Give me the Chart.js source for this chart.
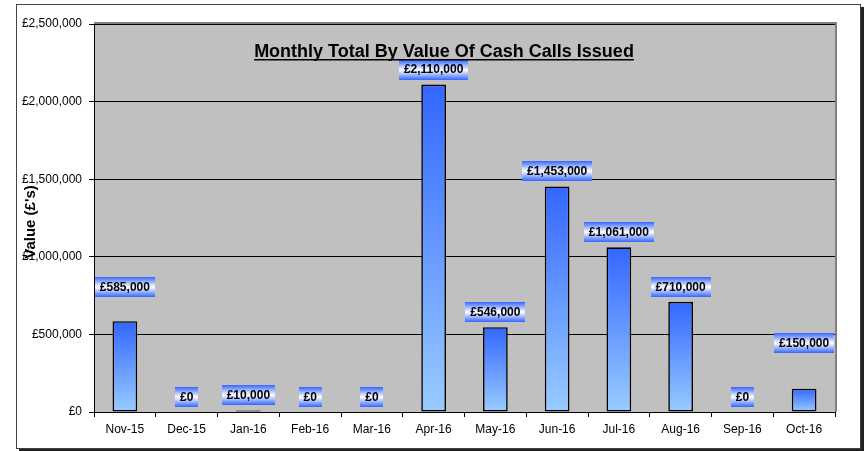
<!DOCTYPE html>
<html>
<head>
<meta charset="utf-8">
<script src="https://cdn.jsdelivr.net/npm/chart.js@4/dist/chart.umd.min.js"></script>
<style>
    html, body { margin: 0; padding: 0; background: #ffffff; }
    #wrap { width: 865px; height: 451px; position: relative; }
</style>
</head>
<body>
<div id="wrap"><canvas id="cashCalls"></canvas></div>
<script>
// Cash calls chart — Excel-ish look

const MONTHS = ['Nov-15', 'Dec-15', 'Jan-16', 'Feb-16', 'Mar-16', 'Apr-16',
    'May-16', 'Jun-16', 'Jul-16', 'Aug-16', 'Sep-16', 'Oct-16'];
const VALUES = [585000, 0, 10000, 0, 0, 2110000, 546000, 1453000, 1061000, 710000, 0, 150000];
const Y_TICKS = [0, 500000, 1000000, 1500000, 2000000, 2500000];

const TITLE = 'Monthly Total By Value Of Cash Calls Issued';
const Y_TITLE = "Value (£'s)";

const BLUE = '#3366ff';
const LIGHT_BLUE = '#99ccff';
const PLOT_BG = '#c0c0c0';
const FONT = "Arial, 'Liberation Sans', sans-serif";

// label boxes that were dragged higher in the original sheet (px above bar top)
const LABEL_LIFT = { 0: 34, 11: 46 };

const money = (v) => '£' + Number(v).toLocaleString('en-GB');

// per-bar vertical gradient, dark on top
function barFill(context) {
    const chart = context.chart;
    const y = chart.scales.y;
    if (!chart.chartArea || !y || context.type !== 'data') return BLUE;
    const top = y.getPixelForValue(context.parsed.y);
    const base = y.getPixelForValue(0);
    if (!isFinite(top) || base - top < 1) return BLUE;
    const g = chart.ctx.createLinearGradient(0, top, 0, base);
    g.addColorStop(0, BLUE);
    g.addColorStop(1, LIGHT_BLUE);
    return g;
}

const frame = {
    id: 'frame',
    beforeDraw(chart) {
        const { ctx, chartArea: a } = chart;
        ctx.save();
        // outer border + shadow
        ctx.fillStyle = '#ffffff';
        ctx.fillRect(0, 0, chart.width, chart.height);
        ctx.fillStyle = '#222';
        ctx.fillRect(19, 7, 845, 444);
        ctx.fillStyle = '#ffffff';
        ctx.fillRect(16, 4, 845, 445);
        ctx.strokeStyle = '#444';
        ctx.lineWidth = 1;
        ctx.strokeRect(16.5, 4.5, 844, 444);
        // plot area
        ctx.fillStyle = PLOT_BG;
        ctx.fillRect(a.left, a.top, a.right - a.left, a.bottom - a.top);
        ctx.fillStyle = '#808080';
        ctx.fillRect(a.left, a.top - 2, a.right - a.left + 2, 2);
        ctx.fillRect(a.right, a.top - 2, 2, a.bottom - a.top + 2);
        ctx.restore();
    },
    afterDraw(chart) {
        const { ctx } = chart;
        ctx.save();
        // title, underlined, inside the plot
        ctx.font = 'bold 18px ' + FONT;
        ctx.fillStyle = '#000';
        ctx.textAlign = 'center';
        ctx.textBaseline = 'alphabetic';
        const cx = 444, by = 57;
        ctx.fillText(TITLE, cx, by);
        const w = ctx.measureText(TITLE).width;
        ctx.fillRect(cx - w / 2, by + 2, w, 1.5);
        // y axis title, rotated
        ctx.translate(35, 222);
        ctx.rotate(-Math.PI / 2);
        ctx.font = 'bold 15px ' + FONT;
        ctx.fillText(Y_TITLE, 0, 0);
        ctx.restore();
    },
};

const valueBoxes = {
    id: 'valueBoxes',
    afterDatasetsDraw(chart) {
        const { ctx } = chart;
        const meta = chart.getDatasetMeta(0);
        ctx.save();
        ctx.font = 'bold 12px ' + FONT;
        ctx.textAlign = 'center';
        ctx.textBaseline = 'middle';
        meta.data.forEach((bar, i) => {
            const text = money(VALUES[i]);
            const w = Math.round(ctx.measureText(text).width) + 10;
            const h = 20;
            const cy = bar.y - (LABEL_LIFT[i] ?? 15);
            const x0 = Math.round(bar.x - w / 2);
            const y0 = Math.round(cy - h / 2);
            const g = ctx.createLinearGradient(0, y0, 0, y0 + h);
            g.addColorStop(0, BLUE);
            g.addColorStop(0.5, '#ffffff');
            g.addColorStop(1, BLUE);
            ctx.fillStyle = g;
            ctx.fillRect(x0, y0, w, h);
            ctx.fillStyle = '#000';
            ctx.fillText(text, bar.x, cy + 0.5);
        });
        ctx.restore();
    },
};

new Chart(document.getElementById('cashCalls'), {
    type: 'bar',
    data: {
        labels: MONTHS,
        datasets: [{
            label: 'Value',
            data: VALUES,
            backgroundColor: barFill,
            borderColor: '#000',
            borderWidth: 1.6,
            borderSkipped: false,
            barPercentage: 0.4,
            categoryPercentage: 1,
        }],
    },
    options: {
        responsive: true,
        maintainAspectRatio: false,
        animation: false,
        events: [],
        layout: { padding: { top: 24, right: 30, bottom: 0, left: 0 } },
        plugins: {
            legend: { display: false },
            tooltip: { enabled: false },
            title: { display: false },
        },
        scales: {
            x: {
                grid: {
                    display: true,
                    drawOnChartArea: false,
                    offset: true,
                    color: '#000',
                    tickLength: 5,
                    tickColor: '#000',
                },
                border: { color: '#000', width: 1 },
                ticks: {
                    color: '#000',
                    padding: 5,
                    maxRotation: 0,
                    autoSkip: false,
                    font: { size: 12, family: FONT },
                },
                afterFit(scale) { scale.height = 39; },
            },
            y: {
                min: 0,
                max: 2500000,
                afterBuildTicks(scale) {
                    scale.ticks = Y_TICKS.map((v) => ({ value: v }));
                },
                grid: {
                    color: '#000',
                    lineWidth: 1,
                    tickLength: 5,
                    tickColor: '#000',
                },
                border: { color: '#000', width: 1 },
                ticks: {
                    color: '#000',
                    padding: 7,
                    font: { size: 12, family: FONT },
                    callback: (v) => money(v),
                },
                afterFit(scale) { scale.width = 94; },
            },
        },
    },
    plugins: [frame, valueBoxes],
});
</script>
</body>
</html>
